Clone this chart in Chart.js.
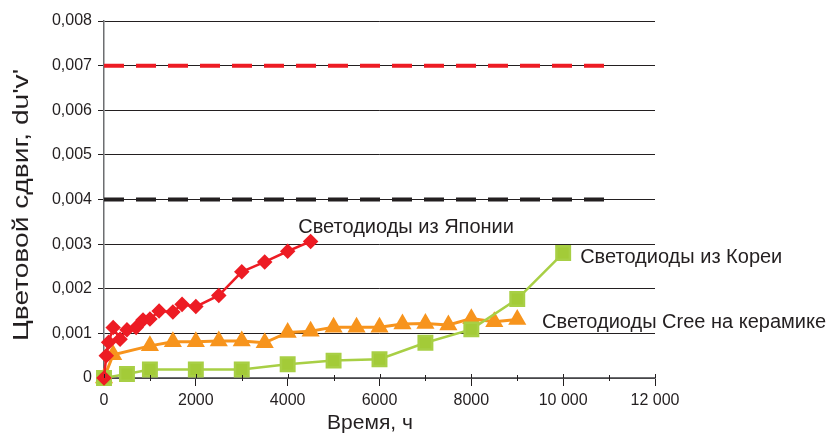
<!DOCTYPE html>
<html>
<head>
<meta charset="utf-8">
<script src="https://cdn.jsdelivr.net/npm/chart.js@4"></script>
<style>
  html, body { margin: 0; padding: 0; background: #fff; }
  #wrap { width: 840px; height: 435px; }
</style>
</head>
<body>
<div id="wrap"><canvas id="c" width="840" height="435"></canvas></div>
<script>
// --- data ---
const japanX = [0, 50, 100, 200, 350, 500, 700, 850, 1000, 1200, 1500, 1700, 2000, 2500, 3000, 3500, 4000, 4500];
const japanY = [0, 0.0005, 0.0008, 0.00113, 0.00087, 0.00108, 0.00113, 0.0013, 0.00132, 0.0015, 0.00148, 0.00165, 0.0016, 0.00185, 0.00238, 0.0026, 0.00284, 0.00306];

const creeX = [0, 200, 1000, 1500, 2000, 2500, 3000, 3500, 4000, 4500, 5000, 5500, 6000, 6500, 7000, 7500, 8000, 8500, 9000];
const creeY = [0, 0.00052, 0.00072, 0.00081, 0.00081, 0.00083, 0.00083, 0.00079, 0.00102, 0.00105, 0.00114, 0.00114, 0.00114, 0.00121, 0.00122, 0.00119, 0.00133, 0.00126, 0.00131];

const koreaX = [0, 500, 1000, 2000, 3000, 4000, 5000, 6000, 7000, 8000, 9000, 10000];
const koreaY = [0, 0.00009, 0.00019, 0.00019, 0.00019, 0.00031, 0.00039, 0.00042, 0.00079, 0.00109, 0.00177, 0.0028];

const limitX = [0, 11000];
const limitRed = [0.007, 0.007];
const limitBlack = [0.004, 0.004];

// series captions, anchored in data units (x, y of the text baseline start)
const captions = [
  { text: "Светодиоды из Японии", x: 4230, y: 0.00325 },
  { text: "Светодиоды из Кореи", x: 10370, y: 0.00258 },
  { text: "Светодиоды Cree на керамике", x: 9540, y: 0.00112 },
];

const xTitle = "Время, ч";
const yTitle = "Цветовой сдвиг, du'v'";

const INK = "#231f20";
const RED = "#ed1c24";
const ORANGE = "#f7941d";
const GREEN = "#a3cb38";
const FONT = "'Liberation Sans', Arial, sans-serif";

const pts = (xs, ys) => xs.map((x, i) => ({ x, y: ys[i] }));

// minor x ticks, captions and axis titles
const extras = {
  id: "extras",
  afterDraw(chart) {
    const { ctx, scales: { x, y }, chartArea } = chart;
    ctx.save();
    ctx.strokeStyle = INK;
    ctx.lineWidth = 1;
    for (let v = 0; v <= 12000; v += 1000) {
      const px = Math.round(x.getPixelForValue(v)) + 0.5;
      ctx.beginPath();
      if (v % 2000) {
        ctx.moveTo(px, chartArea.bottom - 3);
        ctx.lineTo(px, chartArea.bottom + 3);
      } else {
        ctx.moveTo(px, chartArea.bottom - 4);
        ctx.lineTo(px, chartArea.bottom);
      }
      ctx.stroke();
    }
    ctx.fillStyle = INK;
    ctx.font = "20px " + FONT;
    ctx.textBaseline = "alphabetic";
    ctx.textAlign = "left";
    captions.forEach(c => {
      ctx.fillText(c.text, x.getPixelForValue(c.x), y.getPixelForValue(c.y));
    });
    ctx.font = "21px " + FONT;
    ctx.textAlign = "center";
    ctx.fillText(xTitle, 370, 429);

    // y title: the original lettering is drawn somewhat stretched along its length
    ctx.translate(28, 205);
    ctx.rotate(-Math.PI / 2);
    ctx.scale(1.28, 1);
    ctx.font = "22px " + FONT;
    ctx.fillText(yTitle, 0, 0);
    ctx.restore();
  }
};

new Chart(document.getElementById("c"), {
  type: "line",
  data: {
    datasets: [
      {
        data: pts(japanX, japanY), borderColor: RED, backgroundColor: RED,
        borderWidth: 2.5, pointStyle: "rectRot", pointRadius: 6, order: 0, clip: false,
      },
      {
        data: pts(koreaX, koreaY), borderColor: "#a8cf45", backgroundColor: GREEN,
        borderWidth: 2.5, pointStyle: "rect", pointRadius: 9.5, order: 1, clip: false,
      },
      {
        data: pts(creeX, creeY), borderColor: ORANGE, backgroundColor: ORANGE,
        borderWidth: 3, pointStyle: "triangle", pointRadius: 7.5, order: 2, clip: false,
      },
      {
        data: pts(limitX, limitRed), borderColor: RED, borderWidth: 4,
        borderDash: [20, 12], pointRadius: 0, order: 3,
      },
      {
        data: pts(limitX, limitBlack), borderColor: INK, borderWidth: 4,
        borderDash: [20, 12], pointRadius: 0, order: 3,
      },
    ],
  },
  options: {
    responsive: false,
    animation: false,
    events: [],
    layout: { padding: { top: 21, right: 185, bottom: 0, left: 0 } },
    plugins: { legend: { display: false }, tooltip: { enabled: false } },
    elements: { line: { tension: 0 }, point: { borderWidth: 0 } },
    scales: {
      x: {
        type: "linear", min: 0, max: 12000,
        afterFit: s => { s.height = 57; },
        border: { display: true, color: "#6d6e71", width: 1.5 },
        grid: {
          drawOnChartArea: false, tickLength: 8,
          tickColor: c => (c.tick && c.tick.value % 2000 === 0 ? INK : "rgba(0,0,0,0)"),
        },
        ticks: {
          stepSize: 1000, autoSkip: false, maxRotation: 0, padding: 5,
          color: INK, font: { family: FONT, size: 16 },
          callback: v => (v % 2000 ? "" : v >= 10000 ? String(v).replace(/(\d{3})$/, " $1") : String(v)),
        },
      },
      y: {
        min: 0, max: 0.008,
        afterFit: s => { s.width = 104; },
        border: { display: true, color: "#6d6e71", width: 1.5 },
        grid: { color: INK, lineWidth: 1, tickLength: 6, tickColor: INK },
        ticks: {
          stepSize: 0.001, padding: 6, color: INK,
          font: { family: FONT, size: 16 },
          callback: v => (v === 0 ? "0" : v.toFixed(3).replace(".", ",")),
        },
      },
    },
  },
  plugins: [extras],
});
</script>
</body>
</html>
